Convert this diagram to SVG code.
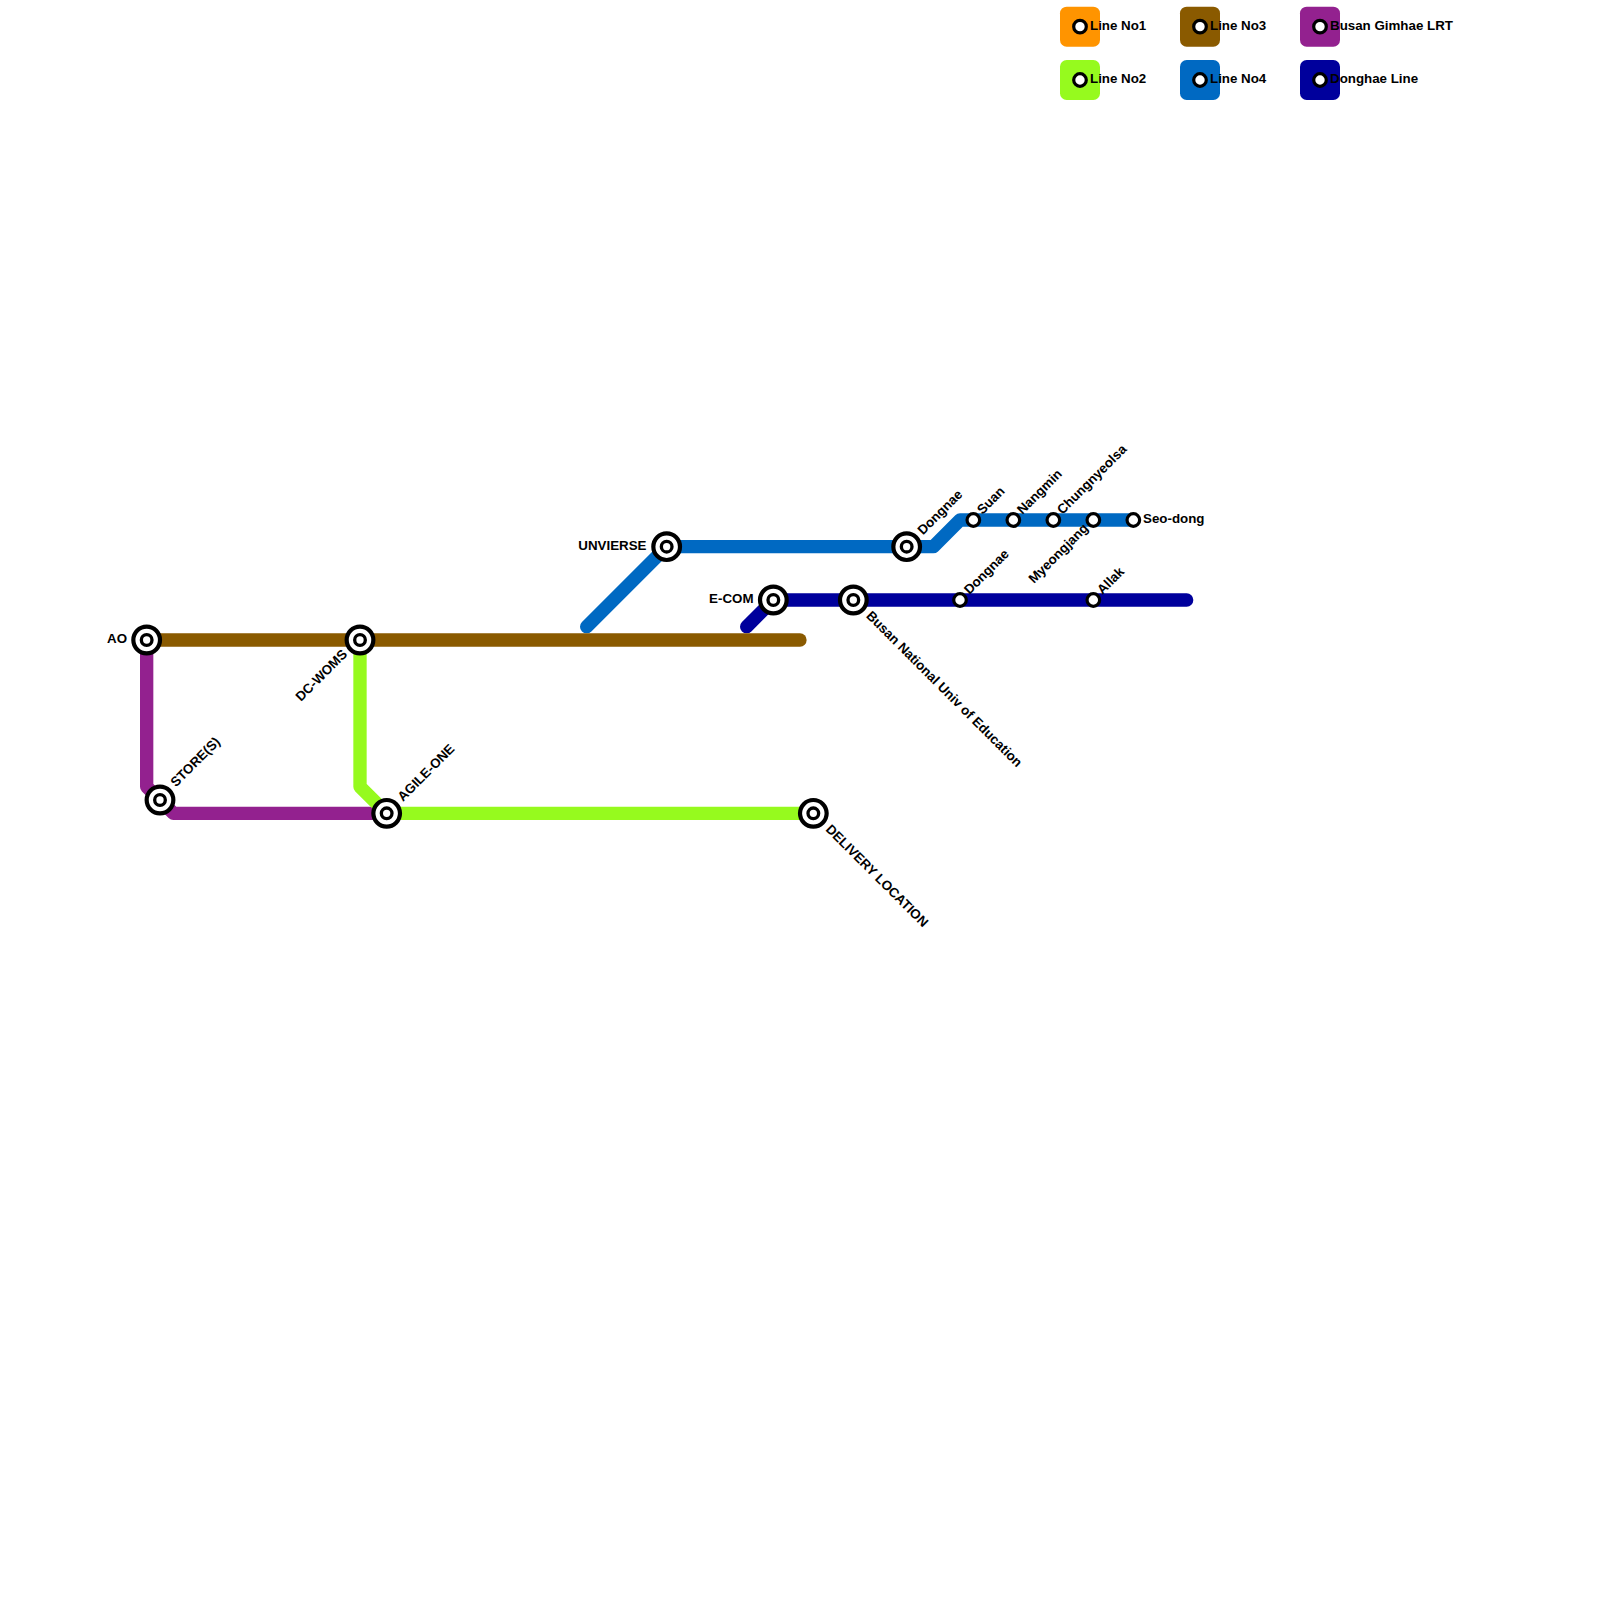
<svg xmlns="http://www.w3.org/2000/svg" width="1600" height="1600" viewBox="0 0 1600 1600">
<style>
.l{fill:none;stroke-width:13.33;stroke-linecap:round;stroke-linejoin:round}
.o{fill:#fff;stroke:#000;stroke-width:4.2}
.i{fill:#fff;stroke:#000;stroke-width:3.2}
text{font-family:"Liberation Sans",Arial,sans-serif;font-weight:bold;font-size:13.33px;fill:#000}
.e{text-anchor:end}
</style>
<rect width="1600" height="1600" fill="#fff"/>
<g id="connectors">
<path class="l" stroke="#0069c2" d="M586.67 626.67L666.67 546.67H933.33L960 520H1133.33"/>
<path class="l" stroke="#00009c" d="M746.67 626.67L773.33 600H1186.67"/>
<path class="l" stroke="#93218f" d="M146.67 640V786.67L173.33 813.33H386.67"/>
<path class="l" stroke="#96fa1e" d="M360 640V786.67L386.67 813.33H813.33"/>
<path class="l" stroke="#8a5a00" d="M146.67 640H800"/>
</g>
<g id="legend-line1"><rect x="1060" y="6.67" width="40" height="40" rx="6.67" fill="#ff9400"/><circle class="i" cx="1080" cy="26.67" r="6.3"/><text x="1090" y="30">Line No1</text></g>
<g id="legend-line2"><rect x="1060" y="60" width="40" height="40" rx="6.67" fill="#96fa1e"/><circle class="i" cx="1080" cy="80" r="6.3"/><text x="1090" y="83">Line No2</text></g>
<g id="legend-line3"><rect x="1180" y="6.67" width="40" height="40" rx="6.67" fill="#8a5a00"/><circle class="i" cx="1200" cy="26.67" r="6.3"/><text x="1210" y="30">Line No3</text></g>
<g id="legend-line4"><rect x="1180" y="60" width="40" height="40" rx="6.67" fill="#0069c2"/><circle class="i" cx="1200" cy="80" r="6.3"/><text x="1210" y="83">Line No4</text></g>
<g id="legend-lrt"><rect x="1300" y="6.67" width="40" height="40" rx="6.67" fill="#93218f"/><circle class="i" cx="1320" cy="26.67" r="6.3"/><text x="1330" y="30">Busan Gimhae LRT</text></g>
<g id="legend-donghae"><rect x="1300" y="60" width="40" height="40" rx="6.67" fill="#00009c"/><circle class="i" cx="1320" cy="80" r="6.3"/><text x="1330" y="83">Donghae Line</text></g>
<defs><g id="big"><circle class="o" r="13.33"/><circle r="5.33" fill="#fff" stroke="#000" stroke-width="3.33"/></g></defs>
<g id="st-ao"><use href="#big" x="146.67" y="640"/><text class="e" x="127" y="643">AO</text></g>
<g id="st-dcwoms"><use href="#big" x="360" y="640"/><text class="e" transform="translate(348 655) rotate(-45)">DC-WOMS</text></g>
<g id="st-store"><use href="#big" x="160" y="800"/><text transform="translate(176 787.5) rotate(-45)">STORE(S)</text></g>
<g id="st-agile"><use href="#big" x="386.67" y="813.33"/><text transform="translate(403 802) rotate(-45)">AGILE-ONE</text></g>
<g id="st-delivery"><use href="#big" x="813.33" y="813.33"/><text transform="translate(825 830) rotate(45)">DELIVERY LOCATION</text></g>
<g id="st-unvierse"><use href="#big" x="666.67" y="546.67"/><text class="e" x="646.5" y="549.5">UNVIERSE</text></g>
<g id="st-ecom"><use href="#big" x="773.33" y="600"/><text class="e" x="753.5" y="603">E-COM</text></g>
<g id="st-busan"><use href="#big" x="853.33" y="600"/><text transform="translate(865.5 616.5) rotate(45)">Busan National Univ of Education</text></g>
<g id="st-dongnae4"><use href="#big" x="906.67" y="546.67"/><text transform="translate(923 535.5) rotate(-45)">Dongnae</text></g>
<g id="st-suan"><circle class="i" cx="973.33" cy="520" r="6.3"/><text transform="translate(982.5 515) rotate(-45)">Suan</text></g>
<g id="st-nangmin"><circle class="i" cx="1013.33" cy="520" r="6.3"/><text transform="translate(1022.5 515) rotate(-45)">Nangmin</text></g>
<g id="st-chung"><circle class="i" cx="1053.33" cy="520" r="6.3"/><text transform="translate(1062.5 515) rotate(-45)">Chungnyeolsa</text></g>
<g id="st-myeong"><circle class="i" cx="1093.33" cy="520" r="6.3"/><text class="e" transform="translate(1089 529) rotate(-45)">Myeongjang</text></g>
<g id="st-seodong"><circle class="i" cx="1133.33" cy="520" r="6.3"/><text x="1143" y="523">Seo-dong</text></g>
<g id="st-dongnae"><circle class="i" cx="960" cy="600" r="6.3"/><text transform="translate(969.5 595) rotate(-45)">Dongnae</text></g>
<g id="st-allak"><circle class="i" cx="1093.33" cy="600" r="6.3"/><text transform="translate(1102.5 595) rotate(-45)">Allak</text></g>
</svg>
